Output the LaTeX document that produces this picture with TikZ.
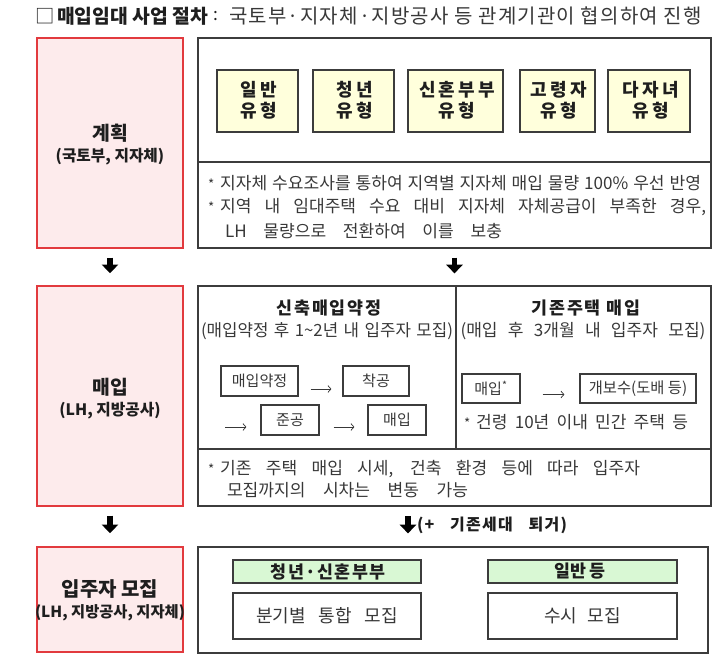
\documentclass[tikz,border=0pt]{standalone}
\usepackage{fontspec}
\setmainfont{Noto Sans CJK KR}
\usetikzlibrary{fit,calc,arrows.meta}
\definecolor{pinkfill}{HTML}{FDEBEC}
\definecolor{redline}{HTML}{E23A3E}
\definecolor{yelfill}{HTML}{FFFFDC}
\definecolor{grnfill}{HTML}{D9F8D4}
\definecolor{framec}{HTML}{3C3C3C}
\definecolor{textc}{HTML}{1E1E1E}
\definecolor{softtext}{HTML}{383838}
\newlength\pxu \setlength\pxu{0.75pt}
\newcommand\fsz[1]{\fontsize{#1pt}{#1pt}\selectfont}
\newcommand\spreadto[2]{\makebox[#1\pxu][s]{#2}}
\newcommand\lsp[1]{\addfontfeatures{LetterSpace=#1}}
\newcommand\bul{{\fsz{10}*}\hspace{6\pxu}}
\tikzset{
  leftbox/.style={draw=redline, fill=pinkfill, line width=1.1pt, inner sep=0pt},
  mainbox/.style={draw=framec, line width=0.9pt, inner sep=0pt},
  typebox/.style={draw=framec, fill=yelfill, line width=0.8pt, inner sep=0pt},
  stepbox/.style={draw=framec, fill=white, line width=0.9pt, inner sep=0pt},
  grnbox/.style={draw=framec, fill=grnfill, line width=0.8pt, inner sep=0pt},
  txt/.style={inner sep=0pt, outer sep=0pt, text=textc},
  soft/.style={inner sep=0pt, outer sep=0pt, text=softtext},
  bigarrow/.style={line width=3.9pt, -{Triangle[width=12pt,length=6.5pt]}},
  thinarrow/.style={line width=0.55pt, draw=softtext, -{Straight Barb[length=2.2pt,width=5pt]}},
  divider/.style={draw=framec, line width=0.8pt},
}
\begin{document}
\begin{tikzpicture}[x=0.75pt,y=-0.75pt]
\useasboundingbox (0,0) rectangle (714,658);
% ---------- title
\node[txt,anchor=west] (tbox) at (36,16) {\fsz{14.5}□};
\node[txt,anchor=west] (tmain) at (57,16) {\fsz{14.5}\bfseries 매입임대 사업 절차};
\node[txt,anchor=west] (tcolon) at (213,16) {\fsz{13}:};
\node[soft,anchor=west] (trest) at (229,16) {\fsz{15}\lsp{6}국토부·지자체·지방공사 등 관계기관이 협의하여 진행};
% ---------- left column
\node[leftbox, fit={(37,38) (183,248)}] (L1) {};
\node[leftbox, fit={(37,286) (183,506)}] (L2) {};
\node[leftbox, fit={(37,547) (183,652)}] (L3) {};
\node[txt] (L1a) at (110,133) {\fsz{14.5}\bfseries 계획};
\node[txt] (L1b) at (110,157) {\fsz{11.8}\bfseries (국토부, 지자체)};
\node[txt] (L2a) at (110,387) {\fsz{14.5}\bfseries 매입};
\node[txt] (L2b) at (110,411) {\fsz{11.8}\bfseries (LH, 지방공사)};
\node[txt] (L3a) at (110,589) {\fsz{15}\bfseries 입주자 모집};
\node[txt] (L3b) at (110,613) {\fsz{11.5}\bfseries (LH, 지방공사, 지자체)};
% ---------- plan box
\node[mainbox, fit={(198,38) (711,248)}] (R1) {};
\coordinate (r1d) at (0,162);
\draw[divider] (R1.west |- r1d) -- (R1.east |- r1d);
\node[typebox, fit={(217,70) (298,132)}] (y1) {};
\node[typebox, fit={(313,70) (394,132)}] (y2) {};
\node[typebox, fit={(408,70) (503,132)}] (y3) {};
\node[typebox, fit={(520,70) (595,132)}] (y4) {};
\node[typebox, fit={(608,70) (690,132)}] (y5) {};
\foreach \n/\t in {y1/일반, y2/청년, y3/신혼부부, y4/고령자, y5/다자녀}{
  \node[txt] (\n a) at ($(\n.north)+(1.5,20)$) {\fsz{13.5}\bfseries\lsp{18}\t};
  \node[txt] (\n b) at ($(\n.north)+(1.5,41)$) {\fsz{13.5}\bfseries\lsp{18}유형};
}
\node[soft,anchor=west] (p1) at (208,183) {\fsz{12.8}\spreadto{493}{\bul 지자체 수요조사를 통하여 지역별 지자체 매입 물량 100\% 우선 반영}};
\node[soft,anchor=west] (p2) at (208,207) {\fsz{12.8}\spreadto{498}{\bul 지역 내 임대주택 수요 대비 지자체 자체공급이 부족한 경우,}};
\node[soft,anchor=west] (p3) at (225,231) {\fsz{12.8}\spreadto{277}{LH 물량으로 전환하여 이를 보충}};
% ---------- purchase box
\node[mainbox, fit={(198,286) (711,506)}] (R2) {};
\coordinate (r2v) at (456,0);
\coordinate (r2h) at (0,449);
\draw[divider] (r2v |- R2.north) -- (r2v |- r2h);
\draw[divider] (R2.west |- r2h) -- (R2.east |- r2h);
\node[txt] (h1) at (329,308) {\fsz{13}\bfseries\lsp{10}신축매입약정};
\node[soft] (h1s) at (327,331) {\fsz{12.6}\spreadto{252}{(매입약정 후 1\textasciitilde 2년 내 입주자 모집)}};
\node[txt] (h2) at (586,308) {\fsz{13}\bfseries\lsp{10}기존주택 매입};
\node[soft] (h2s) at (583,331) {\fsz{12.8}\spreadto{245}{(매입 후 3개월 내 입주자 모집)}};
\node[stepbox, fit={(221,366) (298,396)}] (a1) {};
\node[stepbox, fit={(343,366) (409,396)}] (a2) {};
\node[stepbox, fit={(261,405) (319,435)}] (a3) {};
\node[stepbox, fit={(368,405) (426,435)}] (a4) {};
\node[stepbox, fit={(462,374) (520,403)}] (b1) {};
\node[stepbox, fit={(580,374) (696,403)}] (b2) {};
\node[soft] (a1t) at (a1) {\fsz{11.3}매입약정};
\node[soft] (a2t) at (a2) {\fsz{11.3}착공};
\node[soft] (a3t) at (a3) {\fsz{11.3}준공};
\node[soft] (a4t) at (a4) {\fsz{11.3}매입};
\node[soft] (b1t) at (b1) {\fsz{11.3}매입\textsuperscript{*}};
\node[soft] (b2t) at (b2) {\fsz{11.5}개보수(도배 등)};
\draw[thinarrow] ($(a1.east)+(12,8)$) -- ($(a2.west)+(-11,8)$);
\coordinate (a3in) at (225,427);
\draw[thinarrow] (a3in) -- ($(a3.west)+(-14,7)$);
\draw[thinarrow] ($(a3.east)+(14,7)$) -- ($(a4.west)+(-13,7)$);
\draw[thinarrow] ($(b1.east)+(22,6)$) -- ($(b2.west)+(-15,6)$);
\node[soft,anchor=west] (bn) at (464,422) {\fsz{12.8}\spreadto{224}{\bul 건령 10년 이내 민간 주택 등}};
\node[soft,anchor=west] (q1) at (208,469) {\fsz{12.8}\spreadto{432}{\bul 기존 주택 매입 시세, 건축 환경 등에 따라 입주자}};
\node[soft,anchor=west] (q2) at (227,490) {\fsz{12.8}\spreadto{241}{모집까지의 시차는 변동 가능}};
% ---------- recruitment box
\node[mainbox, fit={(198,547) (708,653)}] (R3) {};
\node[grnbox, fit={(233,560) (421,583)}] (g1) {};
\node[stepbox, fit={(233,593) (421,639)}] (w1) {};
\node[grnbox, fit={(488,560) (677,583)}] (g2) {};
\node[stepbox, fit={(488,593) (677,639)}] (w2) {};
\node[txt] (g1t) at (328,571.5) {\fsz{13}\bfseries\lsp{8}청년·신혼부부};
\node[txt] (g2t) at (580,571.5) {\fsz{13}\bfseries 일반 등};
\node[soft] (w1t) at (w1) {\fsz{13.5}\spreadto{142}{분기별 통합 모집}};
\node[soft] (w2t) at (w2) {\fsz{13.5}\spreadto{77}{수시 모집}};
% ---------- down arrows
\draw[bigarrow] ($(L1.south)+(0,9)$) -- ($(L2.north)+(0,-12)$);
\draw[bigarrow] ($(R1.south)+(0,9)$) -- ($(R2.north)+(0,-12)$);
\draw[bigarrow] ($(L2.south)+(0,9)$) -- ($(L3.north)+(0,-13)$);
\coordinate (d4) at (408,516);
\draw[bigarrow] (d4) -- ($(d4 |- R3.north)+(0,-13)$);
\node[txt,anchor=west] (d4t) at (417,525) {\fsz{12}\bfseries\lsp{8}\spreadto{150}{(+ 기존세대 퇴거)}};
\end{tikzpicture}
\end{document}
